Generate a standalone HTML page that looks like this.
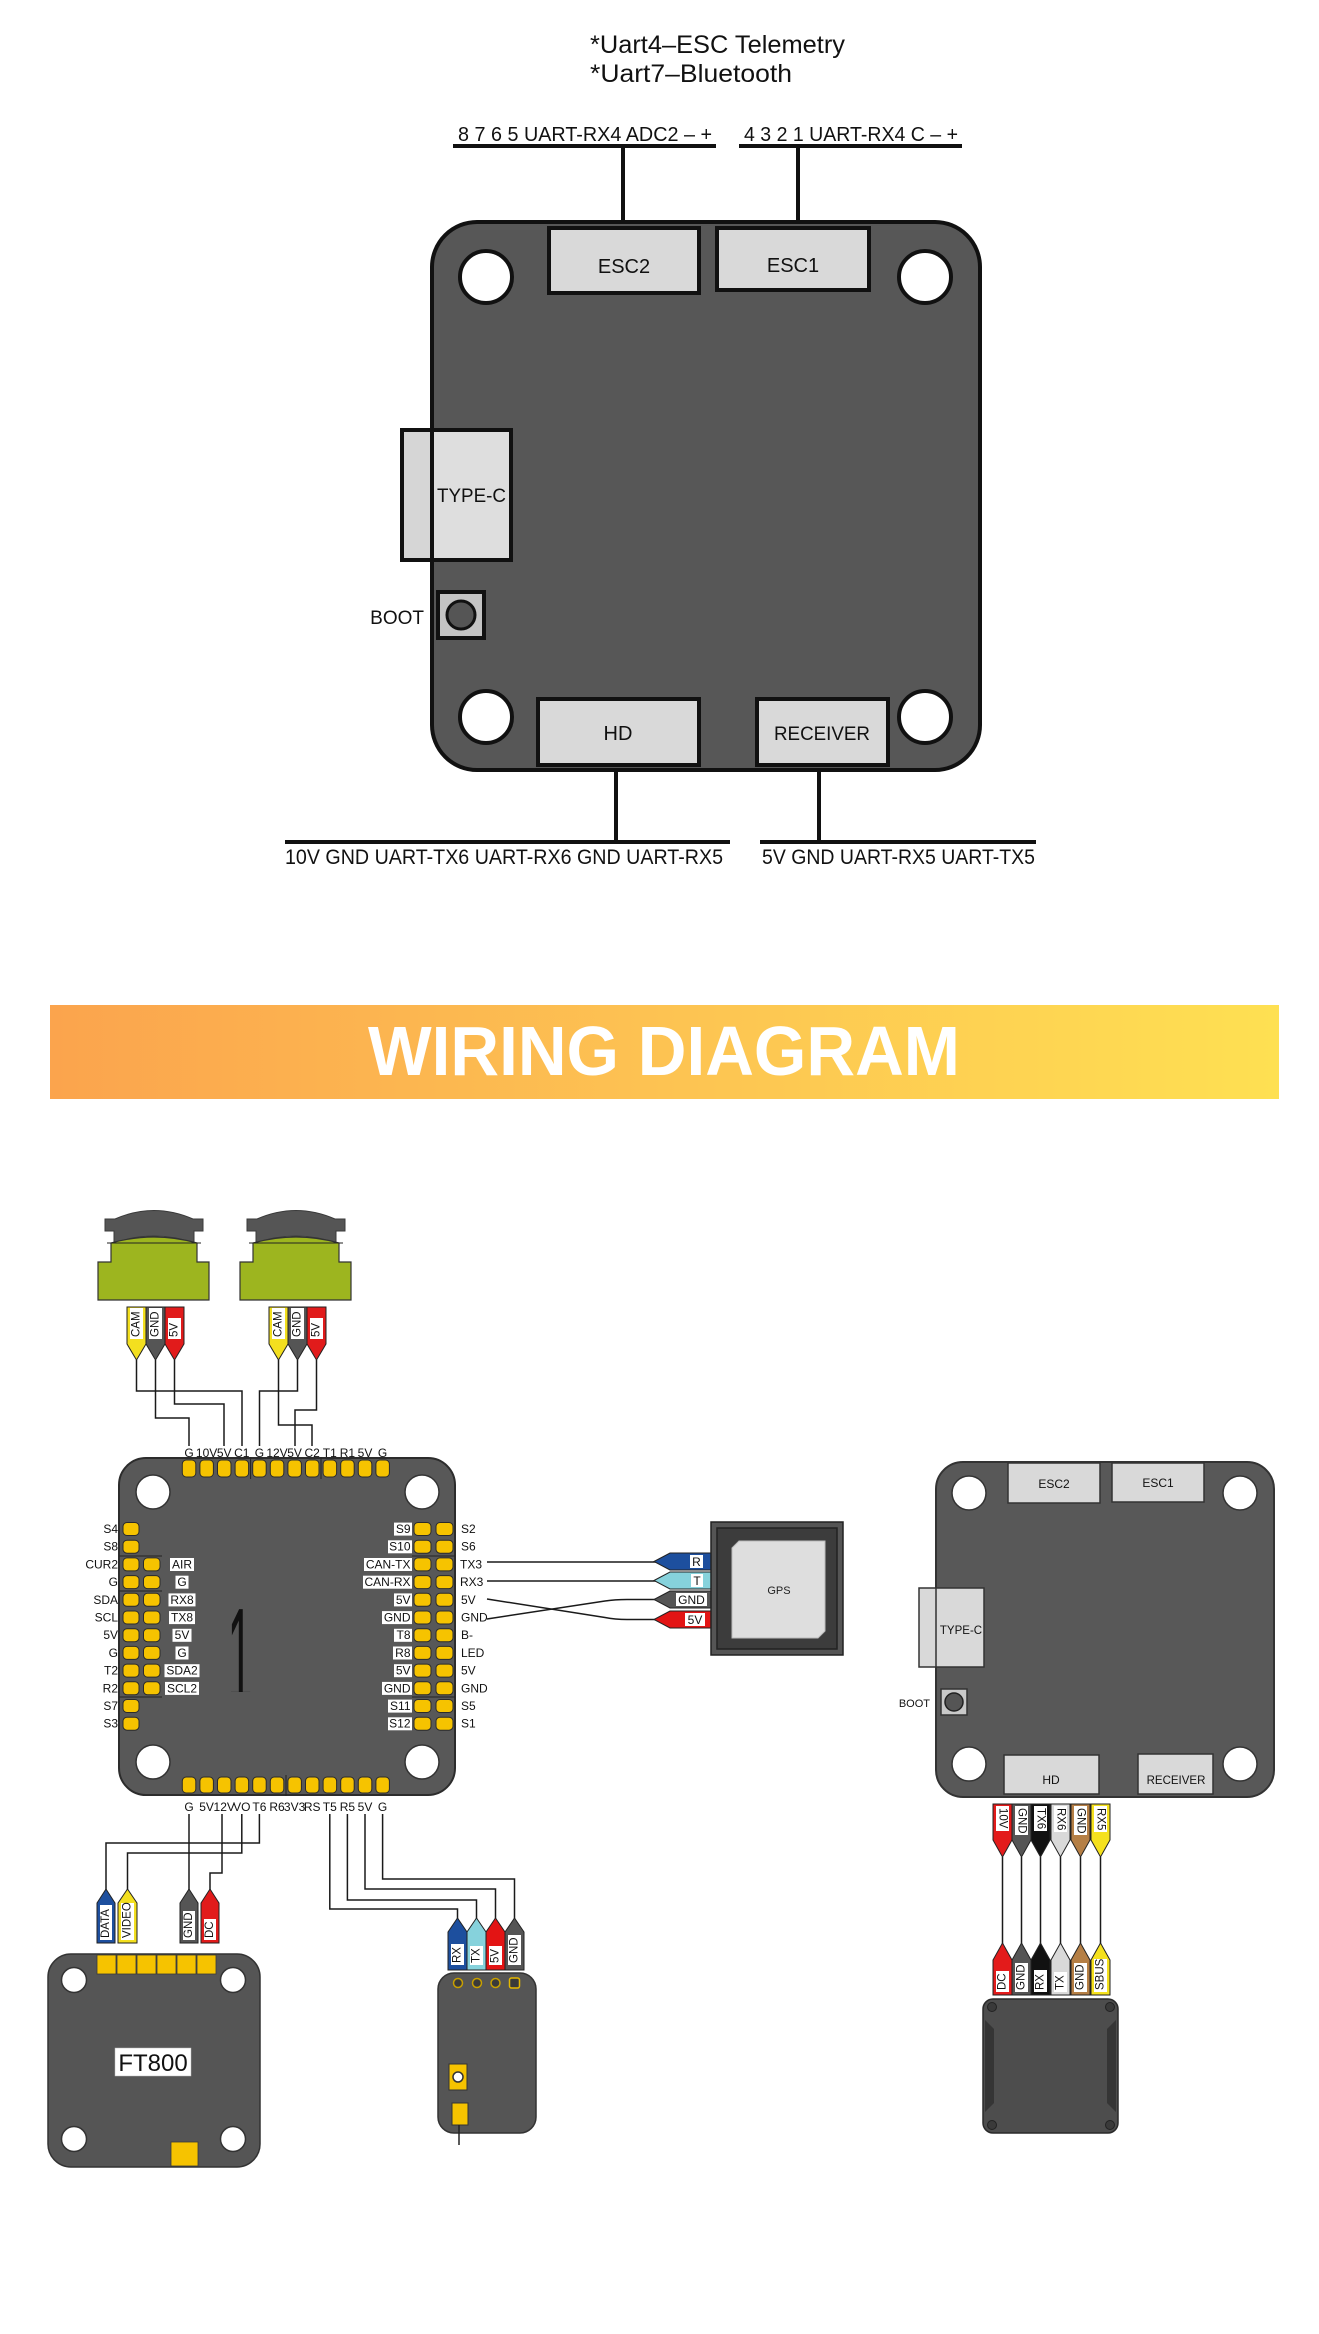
<!DOCTYPE html>
<html><head><meta charset="utf-8">
<style>
html,body{margin:0;padding:0;background:#fff;}
svg{display:block;}
text{font-family:"Liberation Sans",sans-serif;}
</style></head><body>
<svg width="1319" height="2334" viewBox="0 0 1319 2334" xmlns="http://www.w3.org/2000/svg">
<defs>
<linearGradient id="ban" x1="0" y1="0" x2="1" y2="0">
<stop offset="0" stop-color="#fba44d"/>
<stop offset="0.5" stop-color="#fdc352"/>
<stop offset="1" stop-color="#fee052"/>
</linearGradient>
<clipPath id="c1"><rect x="200" y="1580" width="80" height="112"/></clipPath>
</defs>

<!-- ================= TOP SECTION ================= -->
<g fill="#111">
<text x="590" y="53" font-size="25" textLength="255" lengthAdjust="spacingAndGlyphs">*Uart4–ESC Telemetry</text>
<text x="590" y="82" font-size="25" textLength="202" lengthAdjust="spacingAndGlyphs">*Uart7–Bluetooth</text>
<text x="458" y="141" font-size="20" textLength="254" lengthAdjust="spacingAndGlyphs">8 7 6 5 UART-RX4 ADC2 – +</text>
<text x="744" y="141" font-size="20" textLength="214" lengthAdjust="spacingAndGlyphs">4 3 2 1 UART-RX4 C – +</text>
</g>
<g stroke="#111" stroke-width="4">
<line x1="453" y1="146" x2="716" y2="146"/>
<line x1="739" y1="146" x2="962" y2="146"/>
<line x1="623" y1="146" x2="623" y2="228"/>
<line x1="798" y1="146" x2="798" y2="228"/>
<line x1="616" y1="765" x2="616" y2="842"/>
<line x1="819" y1="765" x2="819" y2="842"/>
<line x1="285" y1="842" x2="730" y2="842"/>
<line x1="760" y1="842" x2="1036" y2="842"/>
</g>

<rect x="432" y="222" width="548" height="548" rx="45" fill="#575757" stroke="#111" stroke-width="4"/>
<rect x="549" y="228" width="150" height="65" fill="#d9d9d9" stroke="#111" stroke-width="4"/>
<rect x="717" y="228" width="152" height="62" fill="#d9d9d9" stroke="#111" stroke-width="4"/>
<text x="624" y="273" font-size="20" text-anchor="middle" fill="#111">ESC2</text>
<text x="793" y="272" font-size="20" text-anchor="middle" fill="#111">ESC1</text>
<g fill="#fff" stroke="#111" stroke-width="4">
<circle cx="486" cy="277" r="26"/>
<circle cx="925" cy="277" r="26"/>
<circle cx="486" cy="717" r="26"/>
<circle cx="925" cy="717" r="26"/>
</g>
<rect x="402" y="430" width="109" height="130" fill="#d6d6d6" stroke="#111" stroke-width="4"/>
<rect x="434" y="432" width="75" height="126" fill="#dedede"/>
<line x1="432" y1="430" x2="432" y2="560" stroke="#111" stroke-width="4"/>
<text x="437" y="502" font-size="19" fill="#111" textLength="69" lengthAdjust="spacingAndGlyphs">TYPE-C</text>
<rect x="438" y="592" width="46" height="46" fill="#c4c4c4" stroke="#111" stroke-width="4"/>
<circle cx="461" cy="615" r="14" fill="#555" stroke="#111" stroke-width="3"/>
<text x="424" y="624" font-size="19" text-anchor="end" fill="#111">BOOT</text>
<rect x="538" y="699" width="161" height="66" fill="#d9d9d9" stroke="#111" stroke-width="4"/>
<rect x="757" y="699" width="131" height="66" fill="#d9d9d9" stroke="#111" stroke-width="4"/>
<text x="618" y="740" font-size="20" text-anchor="middle" fill="#111">HD</text>
<text x="822" y="740" font-size="19" text-anchor="middle" fill="#111" textLength="96" lengthAdjust="spacingAndGlyphs">RECEIVER</text>

<g fill="#111">
<text x="285" y="864" font-size="21" textLength="438" lengthAdjust="spacingAndGlyphs">10V GND UART-TX6 UART-RX6 GND UART-RX5</text>
<text x="762" y="864" font-size="21" textLength="273" lengthAdjust="spacingAndGlyphs">5V GND UART-RX5 UART-TX5</text>
</g>

<!-- ================= BANNER ================= -->
<rect x="50" y="1005" width="1229" height="94" fill="url(#ban)"/>
<text x="664" y="1075" font-size="70" font-weight="bold" fill="#fff" text-anchor="middle" textLength="592" lengthAdjust="spacingAndGlyphs">WIRING DIAGRAM</text>

<!-- ================= CAMERAS ================= -->
<g>
<path d="M105 1219 L115 1219 Q154 1202 193 1219 L203 1219 L203 1231 L194 1231 L194 1243 Q154 1229 114 1243 L114 1231 L105 1231 Z" fill="#555" stroke="#3a3a3a" stroke-width="1"/>
<path d="M111 1243 Q154 1231 197 1243 L197 1262 L209 1262 L209 1300 L98 1300 L98 1262 L111 1262 Z" fill="#9db51f" stroke="#333" stroke-width="1.2"/>
<line x1="107" y1="1243" x2="201" y2="1243" stroke="#222" stroke-width="1"/>
</g>
<g transform="translate(142,0)">
<path d="M105 1219 L115 1219 Q154 1202 193 1219 L203 1219 L203 1231 L194 1231 L194 1243 Q154 1229 114 1243 L114 1231 L105 1231 Z" fill="#555" stroke="#3a3a3a" stroke-width="1"/>
<path d="M111 1243 Q154 1231 197 1243 L197 1262 L209 1262 L209 1300 L98 1300 L98 1262 L111 1262 Z" fill="#9db51f" stroke="#333" stroke-width="1.2"/>
<line x1="107" y1="1243" x2="201" y2="1243" stroke="#222" stroke-width="1"/>
</g>

<g stroke="#222" stroke-width="1">
<polygon points="127,1307 146,1307 146,1344 136.5,1360 127,1344" fill="#f3df1f"/>
<polygon points="146,1307 165,1307 165,1344 155.5,1360 146,1344" fill="#555"/>
<polygon points="165,1307 184,1307 184,1344 174.5,1360 165,1344" fill="#e11b1b"/>
<polygon points="269,1307 288,1307 288,1344 278.5,1360 269,1344" fill="#f3df1f"/>
<polygon points="288,1307 307,1307 307,1344 297.5,1360 288,1344" fill="#555"/>
<polygon points="307,1307 326,1307 326,1344 316.5,1360 307,1344" fill="#e11b1b"/>
</g>
<g fill="#fff">
<rect x="130" y="1308" width="13" height="31"/>
<rect x="149" y="1308" width="13" height="31"/>
<rect x="168" y="1318" width="13" height="21"/>
<rect x="272" y="1308" width="13" height="31"/>
<rect x="291" y="1308" width="13" height="31"/>
<rect x="310" y="1318" width="13" height="21"/>
</g>
<g font-size="11.5" fill="#111" dominant-baseline="central">
<text transform="translate(136.5,1337) rotate(-90)">CAM</text>
<text transform="translate(155.5,1337) rotate(-90)">GND</text>
<text transform="translate(174.5,1337) rotate(-90)">5V</text>
<text transform="translate(278.5,1337) rotate(-90)">CAM</text>
<text transform="translate(297.5,1337) rotate(-90)">GND</text>
<text transform="translate(316.5,1337) rotate(-90)">5V</text>
</g>
<g fill="none" stroke="#1a1a1a" stroke-width="1.5">
<path d="M136.5 1360 V1391 H242 V1446"/>
<path d="M155.5 1360 V1418 H189 V1446"/>
<path d="M174.5 1360 V1404 H224 V1446"/>
<path d="M278.5 1360 V1425 H312 V1446"/>
<path d="M297.5 1360 V1391 H259.5 V1446"/>
<path d="M316.5 1360 V1410 H295 V1446"/>
</g>

<!-- ================= FLIGHT CONTROLLER ================= -->
<rect x="119" y="1458" width="336" height="337" rx="27" fill="#585858" stroke="#2c2c2c" stroke-width="2"/>
<g fill="#fff" stroke="#333" stroke-width="1.5">
<circle cx="153" cy="1492" r="17"/>
<circle cx="422" cy="1492" r="17"/>
<circle cx="153" cy="1762" r="17"/>
<circle cx="422" cy="1762" r="17"/>
</g>
<g stroke="#222" stroke-width="1">
<line x1="250.6" y1="1457" x2="250.6" y2="1479"/>
<line x1="321" y1="1457" x2="321" y2="1479"/>
<line x1="286" y1="1775" x2="286" y2="1796"/>
<line x1="119" y1="1556" x2="162" y2="1556"/>
<line x1="119" y1="1591" x2="162" y2="1591"/>
<line x1="119" y1="1697" x2="162" y2="1697"/>
<line x1="412" y1="1556" x2="455" y2="1556"/>
<line x1="412" y1="1697" x2="455" y2="1697"/>
</g>
<g fill="#f6c300" stroke="#2b2b2b" stroke-width="1">
<rect x="182.3" y="1460" width="13.5" height="17" rx="4"/>
<rect x="199.9" y="1460" width="13.5" height="17" rx="4"/>
<rect x="217.5" y="1460" width="13.5" height="17" rx="4"/>
<rect x="235.1" y="1460" width="13.5" height="17" rx="4"/>
<rect x="252.7" y="1460" width="13.5" height="17" rx="4"/>
<rect x="270.3" y="1460" width="13.5" height="17" rx="4"/>
<rect x="287.9" y="1460" width="13.5" height="17" rx="4"/>
<rect x="305.5" y="1460" width="13.5" height="17" rx="4"/>
<rect x="323.1" y="1460" width="13.5" height="17" rx="4"/>
<rect x="340.7" y="1460" width="13.5" height="17" rx="4"/>
<rect x="358.3" y="1460" width="13.5" height="17" rx="4"/>
<rect x="375.9" y="1460" width="13.5" height="17" rx="4"/>

<rect x="182.3" y="1777" width="13.5" height="16" rx="4"/>
<rect x="199.9" y="1777" width="13.5" height="16" rx="4"/>
<rect x="217.5" y="1777" width="13.5" height="16" rx="4"/>
<rect x="235.1" y="1777" width="13.5" height="16" rx="4"/>
<rect x="252.7" y="1777" width="13.5" height="16" rx="4"/>
<rect x="270.3" y="1777" width="13.5" height="16" rx="4"/>
<rect x="287.9" y="1777" width="13.5" height="16" rx="4"/>
<rect x="305.5" y="1777" width="13.5" height="16" rx="4"/>
<rect x="323.1" y="1777" width="13.5" height="16" rx="4"/>
<rect x="340.7" y="1777" width="13.5" height="16" rx="4"/>
<rect x="358.3" y="1777" width="13.5" height="16" rx="4"/>
<rect x="375.9" y="1777" width="13.5" height="16" rx="4"/>

<rect x="123" y="1522.5" width="16" height="13" rx="4"/>
<rect x="123" y="1540.2" width="16" height="13" rx="4"/>
<rect x="123" y="1557.9" width="16" height="13" rx="4"/>
<rect x="123" y="1575.6" width="16" height="13" rx="4"/>
<rect x="123" y="1593.3" width="16" height="13" rx="4"/>
<rect x="123" y="1611" width="16" height="13" rx="4"/>
<rect x="123" y="1628.7" width="16" height="13" rx="4"/>
<rect x="123" y="1646.4" width="16" height="13" rx="4"/>
<rect x="123" y="1664.1" width="16" height="13" rx="4"/>
<rect x="123" y="1681.8" width="16" height="13" rx="4"/>
<rect x="123" y="1699.5" width="16" height="13" rx="4"/>
<rect x="123" y="1717.2" width="16" height="13" rx="4"/>
<rect x="143.5" y="1557.9" width="16.5" height="13" rx="4"/>
<rect x="143.5" y="1575.6" width="16.5" height="13" rx="4"/>
<rect x="143.5" y="1593.3" width="16.5" height="13" rx="4"/>
<rect x="143.5" y="1611" width="16.5" height="13" rx="4"/>
<rect x="143.5" y="1628.7" width="16.5" height="13" rx="4"/>
<rect x="143.5" y="1646.4" width="16.5" height="13" rx="4"/>
<rect x="143.5" y="1664.1" width="16.5" height="13" rx="4"/>
<rect x="143.5" y="1681.8" width="16.5" height="13" rx="4"/>
<rect x="414" y="1522.5" width="17" height="13" rx="4"/>
<rect x="414" y="1540.2" width="17" height="13" rx="4"/>
<rect x="414" y="1557.9" width="17" height="13" rx="4"/>
<rect x="414" y="1575.6" width="17" height="13" rx="4"/>
<rect x="414" y="1593.3" width="17" height="13" rx="4"/>
<rect x="414" y="1611" width="17" height="13" rx="4"/>
<rect x="414" y="1628.7" width="17" height="13" rx="4"/>
<rect x="414" y="1646.4" width="17" height="13" rx="4"/>
<rect x="414" y="1664.1" width="17" height="13" rx="4"/>
<rect x="414" y="1681.8" width="17" height="13" rx="4"/>
<rect x="414" y="1699.5" width="17" height="13" rx="4"/>
<rect x="414" y="1717.2" width="17" height="13" rx="4"/>
<rect x="436" y="1522.5" width="17" height="13" rx="4"/>
<rect x="436" y="1540.2" width="17" height="13" rx="4"/>
<rect x="436" y="1557.9" width="17" height="13" rx="4"/>
<rect x="436" y="1575.6" width="17" height="13" rx="4"/>
<rect x="436" y="1593.3" width="17" height="13" rx="4"/>
<rect x="436" y="1611" width="17" height="13" rx="4"/>
<rect x="436" y="1628.7" width="17" height="13" rx="4"/>
<rect x="436" y="1646.4" width="17" height="13" rx="4"/>
<rect x="436" y="1664.1" width="17" height="13" rx="4"/>
<rect x="436" y="1681.8" width="17" height="13" rx="4"/>
<rect x="436" y="1699.5" width="17" height="13" rx="4"/>
<rect x="436" y="1717.2" width="17" height="13" rx="4"/>
</g>

<g font-size="12" fill="#111" text-anchor="middle">
<text x="189" y="1457">G</text>
<text x="206.6" y="1457">10V</text>
<text x="224.2" y="1457">5V</text>
<text x="241.8" y="1457">C1</text>
<text x="259.4" y="1457">G</text>
<text x="277" y="1457">12V</text>
<text x="294.6" y="1457">5V</text>
<text x="312.2" y="1457">C2</text>
<text x="329.8" y="1457">T1</text>
<text x="347.4" y="1457">R1</text>
<text x="365" y="1457">5V</text>
<text x="382.6" y="1457">G</text>

<text x="189" y="1811">G</text>
<text x="206.6" y="1811">5V</text>
<text x="224.2" y="1811">12V</text>
<text x="241.8" y="1811">VO</text>
<text x="259.4" y="1811">T6</text>
<text x="277" y="1811">R6</text>
<text x="294.6" y="1811">3V3</text>
<text x="312.2" y="1811">RS</text>
<text x="329.8" y="1811">T5</text>
<text x="347.4" y="1811">R5</text>
<text x="365" y="1811">5V</text>
<text x="382.6" y="1811">G</text>
</g>

<g font-size="12" fill="#111" text-anchor="end">
<text x="118" y="1533">S4</text>
<text x="118" y="1550.7">S8</text>
<text x="118" y="1568.4">CUR2</text>
<text x="118" y="1586.1">G</text>
<text x="118" y="1603.8">SDA</text>
<text x="118" y="1621.5">SCL</text>
<text x="118" y="1639.2">5V</text>
<text x="118" y="1656.9">G</text>
<text x="118" y="1674.6">T2</text>
<text x="118" y="1692.3">R2</text>
<text x="118" y="1710">S7</text>
<text x="118" y="1727.7">S3</text>
</g>
<g fill="#fff">
<rect x="170" y="1558" width="24" height="13"/>
<rect x="175.5" y="1575.7" width="13" height="13"/>
<rect x="168.5" y="1593.4" width="27" height="13"/>
<rect x="169" y="1611.1" width="26" height="13"/>
<rect x="172.5" y="1628.8" width="19" height="13"/>
<rect x="175.5" y="1646.5" width="13" height="13"/>
<rect x="164.5" y="1664.2" width="35" height="13"/>
<rect x="165" y="1681.9" width="34" height="13"/>
</g>
<g font-size="12" fill="#111" text-anchor="middle">
<text x="182" y="1568.4">AIR</text>
<text x="182" y="1586.1">G</text>
<text x="182" y="1603.8">RX8</text>
<text x="182" y="1621.5">TX8</text>
<text x="182" y="1639.2">5V</text>
<text x="182" y="1656.9">G</text>
<text x="182" y="1674.6">SDA2</text>
<text x="182" y="1692.3">SCL2</text>
</g>
<g fill="#fff">
<rect x="394" y="1522.6" width="18" height="13"/>
<rect x="388" y="1540.3" width="24" height="13"/>
<rect x="364" y="1558" width="48" height="13"/>
<rect x="363" y="1575.7" width="49" height="13"/>
<rect x="394" y="1593.4" width="18" height="13"/>
<rect x="382" y="1611.1" width="30" height="13"/>
<rect x="394" y="1628.8" width="18" height="13"/>
<rect x="393" y="1646.5" width="19" height="13"/>
<rect x="394" y="1664.2" width="18" height="13"/>
<rect x="382" y="1681.9" width="30" height="13"/>
<rect x="388" y="1699.6" width="24" height="13"/>
<rect x="388" y="1717.3" width="24" height="13"/>
</g>
<g font-size="12" fill="#111" text-anchor="end">
<text x="410.5" y="1533">S9</text>
<text x="410.5" y="1550.7">S10</text>
<text x="410.5" y="1568.4">CAN-TX</text>
<text x="410.5" y="1586.1">CAN-RX</text>
<text x="410.5" y="1603.8">5V</text>
<text x="410.5" y="1621.5">GND</text>
<text x="410.5" y="1639.2">T8</text>
<text x="410.5" y="1656.9">R8</text>
<text x="410.5" y="1674.6">5V</text>
<text x="410.5" y="1692.3">GND</text>
<text x="410.5" y="1710">S11</text>
<text x="410.5" y="1727.7">S12</text>
</g>
<g font-size="12" fill="#111">
<text x="461" y="1533">S2</text>
<text x="461" y="1550.7">S6</text>
<text x="460" y="1568.4">TX3</text>
<text x="460" y="1586.1">RX3</text>
<text x="461" y="1603.8">5V</text>
<text x="461" y="1621.5">GND</text>
<text x="461" y="1639.2">B-</text>
<text x="461" y="1656.9">LED</text>
<text x="461" y="1674.6">5V</text>
<text x="461" y="1692.3">GND</text>
<text x="461" y="1710">S5</text>
<text x="461" y="1727.7">S1</text>
</g>
<!-- big 1 (real text, clipped to hide base) -->
<g clip-path="url(#c1)">
<text x="0" y="0" font-size="135" fill="#111" text-anchor="middle" transform="translate(240,1702) scale(0.33,1)">1</text>
</g>

<!-- ================= GPS ================= -->
<g fill="none" stroke="#1a1a1a" stroke-width="1.5">
<path d="M487 1562 H656"/>
<path d="M487 1581 H656"/>
<path d="M487 1599 L605 1617.5 Q615 1619.5 627 1619.5 H656"/>
<path d="M487 1619 L605 1601 Q615 1599.5 627 1599.5 H656"/>
</g>
<g stroke="#222" stroke-width="1">
<polygon points="654,1561.5 670,1553 711,1553 711,1570 670,1570" fill="#1d4f9e"/>
<polygon points="654,1580.5 670,1572 711,1572 711,1589 670,1589" fill="#86d2dc"/>
<polygon points="654,1599.5 670,1591 711,1591 711,1608 670,1608" fill="#555"/>
<polygon points="654,1619.5 670,1611 711,1611 711,1628 670,1628" fill="#e31414"/>
</g>
<g fill="#fff">
<rect x="690" y="1555" width="13" height="13"/>
<rect x="691" y="1574" width="12" height="13"/>
<rect x="676" y="1593" width="31" height="13"/>
<rect x="685" y="1613" width="20" height="13"/>
</g>
<g font-size="12" fill="#111" text-anchor="middle">
<text x="696.5" y="1566">R</text>
<text x="697" y="1585">T</text>
<text x="691.5" y="1604">GND</text>
<text x="695" y="1624">5V</text>
</g>
<rect x="711" y="1522" width="132" height="133" fill="#555" stroke="#222" stroke-width="1.5"/>
<rect x="717" y="1528" width="120" height="121" fill="#3c3c3c" stroke="#222" stroke-width="1.5"/>
<path d="M739 1541 L825 1541 L825 1631 L818 1638 L732 1638 L732 1548 Z" fill="#dedede" stroke="#bbb" stroke-width="1"/>
<text x="779" y="1594" font-size="11" fill="#222" text-anchor="middle">GPS</text>

<!-- ================= VTX / RX wiring ================= -->
<g fill="none" stroke="#1a1a1a" stroke-width="1.5">
<path d="M259.4 1814 V1843 H106 V1890"/>
<path d="M241.8 1814 V1853 H127.5 V1890"/>
<path d="M189 1814 V1890"/>
<path d="M222 1814 V1873 H210 V1890"/>
<path d="M329.8 1814 V1909 H457.5 V1919"/>
<path d="M347.4 1814 V1900 H476.5 V1919"/>
<path d="M365 1814 V1889 H495.5 V1919"/>
<path d="M382.6 1814 V1879 H514.5 V1919"/>
</g>
<g stroke="#222" stroke-width="1">
<polygon points="97,1943 97,1903 106,1889 115,1903 115,1943" fill="#1d4f9e"/>
<polygon points="118,1943 118,1903 127.5,1889 137,1903 137,1943" fill="#f3df1f"/>
<polygon points="180,1943 180,1903 189,1889 198,1903 198,1943" fill="#555"/>
<polygon points="201,1943 201,1903 210,1889 219,1903 219,1943" fill="#e11b1b"/>
<polygon points="448,1970 448,1932 457.5,1918 467,1932 467,1970" fill="#1d4f9e"/>
<polygon points="467,1970 467,1932 476.5,1918 486,1932 486,1970" fill="#86d2dc"/>
<polygon points="486,1970 486,1932 495.5,1918 505,1932 505,1970" fill="#e31414"/>
<polygon points="505,1970 505,1932 514.5,1918 524,1932 524,1970" fill="#555"/>
</g>
<g fill="#fff">
<rect x="100" y="1905" width="12" height="35"/>
<rect x="121" y="1903" width="13" height="37"/>
<rect x="183" y="1911" width="12" height="29"/>
<rect x="204" y="1919" width="12" height="21"/>
<rect x="451" y="1944" width="13" height="21"/>
<rect x="470" y="1946" width="13" height="19"/>
<rect x="489" y="1946" width="13" height="19"/>
<rect x="508" y="1935" width="13" height="30"/>
</g>
<g font-size="11.5" fill="#111" dominant-baseline="central">
<text transform="translate(106,1938) rotate(-90)">DATA</text>
<text transform="translate(127.5,1938) rotate(-90)">VIDEO</text>
<text transform="translate(189,1938) rotate(-90)">GND</text>
<text transform="translate(210,1938) rotate(-90)">DC</text>
<text transform="translate(457.5,1963) rotate(-90)">RX</text>
<text transform="translate(476.5,1963) rotate(-90)">TX</text>
<text transform="translate(495.5,1963) rotate(-90)">5V</text>
<text transform="translate(514.5,1963) rotate(-90)">GND</text>
</g>

<!-- FT800 board -->
<rect x="48" y="1954" width="212" height="213" rx="23" fill="#555" stroke="#333" stroke-width="1.5"/>
<g fill="#f6c300" stroke="#3a3a3a" stroke-width="0.8">
<rect x="97" y="1955" width="19" height="19"/>
<rect x="117" y="1955" width="19" height="19"/>
<rect x="137" y="1955" width="19" height="19"/>
<rect x="157" y="1955" width="19" height="19"/>
<rect x="177" y="1955" width="19" height="19"/>
<rect x="197" y="1955" width="19" height="19"/>
<rect x="171" y="2142" width="27" height="24"/>
</g>
<g fill="#fff" stroke="#333" stroke-width="1.5">
<circle cx="74" cy="1980" r="12.5"/>
<circle cx="233" cy="1980" r="12.5"/>
<circle cx="74" cy="2139" r="12.5"/>
<circle cx="233" cy="2139" r="12.5"/>
</g>
<rect x="115" y="2048" width="76" height="28" fill="#fff" stroke="#bbb" stroke-width="0.5"/>
<text x="153" y="2071" font-size="24" fill="#111" text-anchor="middle">FT800</text>

<!-- Receiver -->
<rect x="438" y="1973" width="98" height="160" rx="16" fill="#555" stroke="#333" stroke-width="1.5"/>
<g fill="#3a3a3a" stroke="#c8a000" stroke-width="1.5">
<circle cx="458" cy="1983" r="4.5"/>
<circle cx="477" cy="1983" r="4.5"/>
<circle cx="495.5" cy="1983" r="4.5"/>
<rect x="509.5" y="1978" width="10" height="10" rx="2" stroke="#e6b800"/>
</g>
<rect x="449" y="2064" width="18" height="26" fill="#f6c300" stroke="#333" stroke-width="1"/>
<circle cx="458" cy="2077" r="5" fill="#fff" stroke="#333" stroke-width="1.5"/>
<rect x="452" y="2103" width="16" height="22" fill="#f6c300" stroke="#333" stroke-width="1"/>
<line x1="459" y1="2125" x2="459" y2="2145" stroke="#222" stroke-width="1.5"/>

<!-- ================= RIGHT SMALL BOARD ================= -->
<rect x="936" y="1462" width="338" height="335" rx="27" fill="#585858" stroke="#333" stroke-width="2"/>
<g fill="#fff" stroke="#333" stroke-width="1.5">
<circle cx="969" cy="1493" r="17"/>
<circle cx="1240" cy="1493" r="17"/>
<circle cx="969" cy="1764" r="17"/>
<circle cx="1240" cy="1764" r="17"/>
</g>
<g fill="#d9d9d9" stroke="#333" stroke-width="1.5">
<rect x="1008" y="1463" width="92" height="40"/>
<rect x="1112" y="1463" width="92" height="39"/>
<rect x="1004" y="1755" width="95" height="39"/>
<rect x="1138" y="1754" width="75" height="40"/>
<rect x="919" y="1588" width="65" height="79"/>
<rect x="941" y="1689" width="26" height="26" fill="#c9c9c9"/>
</g>
<line x1="936" y1="1588" x2="936" y2="1667" stroke="#333" stroke-width="1.5"/>
<circle cx="954" cy="1702" r="9" fill="#555" stroke="#222" stroke-width="1.5"/>
<g font-size="12" fill="#111" text-anchor="middle">
<text x="1054" y="1488">ESC2</text>
<text x="1158" y="1487">ESC1</text>
<text x="1051" y="1784">HD</text>
<text x="1176" y="1784" font-size="11.5">RECEIVER</text>
<text x="961" y="1634" font-size="11.5">TYPE-C</text>
</g>
<text x="930" y="1707" font-size="11" fill="#111" text-anchor="end">BOOT</text>

<!-- air unit cables -->
<g fill="none" stroke="#1a1a1a" stroke-width="1.5">
<line x1="1002.5" y1="1857" x2="1002.5" y2="1944"/>
<line x1="1021.5" y1="1857" x2="1021.5" y2="1944"/>
<line x1="1040.5" y1="1857" x2="1040.5" y2="1944"/>
<line x1="1060.5" y1="1857" x2="1060.5" y2="1944"/>
<line x1="1080.5" y1="1857" x2="1080.5" y2="1944"/>
<line x1="1100.5" y1="1857" x2="1100.5" y2="1944"/>
</g>
<g stroke="#222" stroke-width="1">
<polygon points="993,1804 1012,1804 1012,1840 1002.5,1857 993,1840" fill="#e31b1b"/>
<polygon points="1012,1804 1031,1804 1031,1840 1021.5,1857 1012,1840" fill="#555"/>
<polygon points="1031,1804 1050,1804 1050,1840 1040.5,1857 1031,1840" fill="#111"/>
<polygon points="1051,1804 1070,1804 1070,1840 1060.5,1857 1051,1840" fill="#d9d9d9"/>
<polygon points="1071,1804 1090,1804 1090,1840 1080.5,1857 1071,1840" fill="#b57f45"/>
<polygon points="1091,1804 1110,1804 1110,1840 1100.5,1857 1091,1840" fill="#f5e11d"/>

<polygon points="993,1995 993,1960 1002.5,1943 1012,1960 1012,1995" fill="#e31b1b"/>
<polygon points="1012,1995 1012,1960 1021.5,1943 1031,1960 1031,1995" fill="#555"/>
<polygon points="1031,1995 1031,1960 1040.5,1943 1050,1960 1050,1995" fill="#111"/>
<polygon points="1051,1995 1051,1960 1060.5,1943 1070,1960 1070,1995" fill="#d9d9d9"/>
<polygon points="1071,1995 1071,1960 1080.5,1943 1090,1960 1090,1995" fill="#b57f45"/>
<polygon points="1091,1995 1091,1960 1100.5,1943 1110,1960 1110,1995" fill="#f5e11d"/>
</g>
<g fill="#fff">
<rect x="996" y="1806" width="13" height="25"/>
<rect x="1015" y="1806" width="13" height="29"/>
<rect x="1034" y="1806" width="13" height="25"/>
<rect x="1054" y="1806" width="13" height="26"/>
<rect x="1074" y="1806" width="13" height="29"/>
<rect x="1094" y="1806" width="13" height="26"/>

<rect x="996" y="1971" width="13" height="21"/>
<rect x="1015" y="1963" width="13" height="29"/>
<rect x="1034" y="1970" width="13" height="22"/>
<rect x="1054" y="1972" width="13" height="20"/>
<rect x="1074" y="1963" width="13" height="29"/>
<rect x="1094" y="1959" width="13" height="33"/>
</g>
<g font-size="11.5" fill="#111" dominant-baseline="central">
<text transform="translate(1002.5,1808) rotate(90)">10V</text>
<text transform="translate(1021.5,1808) rotate(90)">GND</text>
<text transform="translate(1040.5,1808) rotate(90)">TX6</text>
<text transform="translate(1060.5,1808) rotate(90)">RX6</text>
<text transform="translate(1080.5,1808) rotate(90)">GND</text>
<text transform="translate(1100.5,1808) rotate(90)">RX5</text>

<text transform="translate(1002.5,1990) rotate(-90)">DC</text>
<text transform="translate(1021.5,1990) rotate(-90)">GND</text>
<text transform="translate(1040.5,1990) rotate(-90)">RX</text>
<text transform="translate(1060.5,1990) rotate(-90)">TX</text>
<text transform="translate(1080.5,1990) rotate(-90)">GND</text>
<text transform="translate(1100.5,1990) rotate(-90)">SBUS</text>
</g>

<rect x="983" y="1999" width="135" height="134" rx="10" fill="#4d4d4d" stroke="#2a2a2a" stroke-width="1.5"/>
<polygon points="985,2020 994,2029 994,2103 985,2112" fill="#353535"/>
<polygon points="1116,2020 1107,2029 1107,2103 1116,2112" fill="#353535"/>
<g fill="#3a3a3a" stroke="#222" stroke-width="1">
<circle cx="992" cy="2007" r="4.5"/>
<circle cx="1110" cy="2007" r="4.5"/>
<circle cx="992" cy="2125" r="4.5"/>
<circle cx="1110" cy="2125" r="4.5"/>
</g>
</svg>
</body></html>
